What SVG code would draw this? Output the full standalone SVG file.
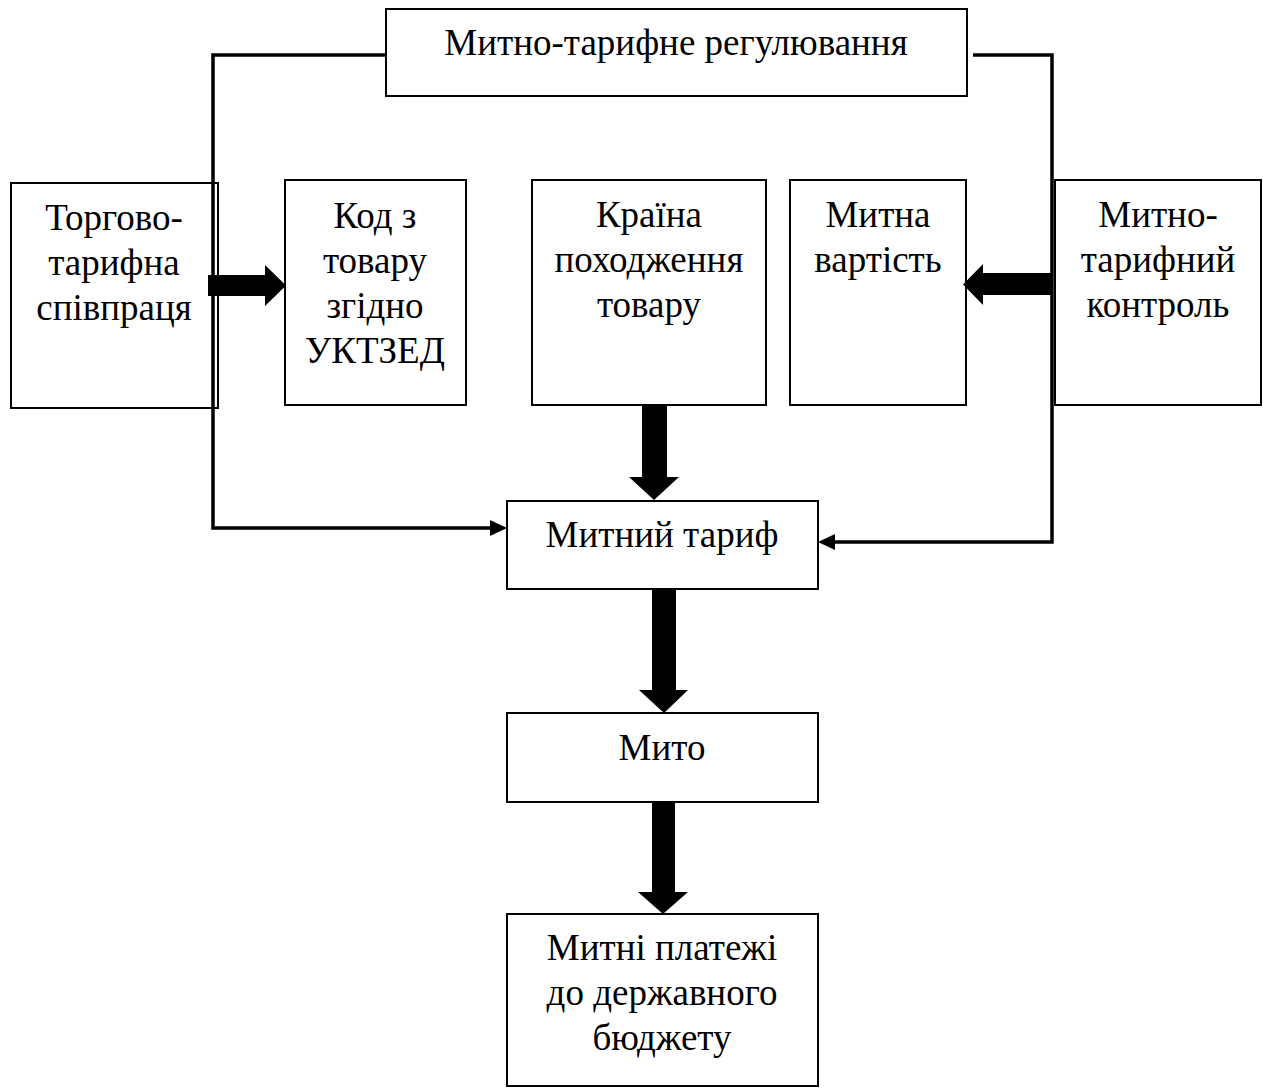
<svg xmlns="http://www.w3.org/2000/svg" width="1263" height="1092" viewBox="0 0 1263 1092">
<style>
.box{fill:#fff;stroke:#000;stroke-width:2}
.t{font-family:"Liberation Serif","Times New Roman",serif;font-size:37px;fill:#000;text-anchor:middle}
.line{fill:none;stroke:#000;stroke-width:3.5}
.fat{fill:#000;stroke:none}
</style>
<rect width="1263" height="1092" fill="#fff"/>
<g id="n-top"><rect class="box" x="386" y="9" width="581" height="87"/><text class="t" x="676" y="55">Митно-тарифне регулювання</text></g>
<g id="n-torg"><rect class="box" x="11" y="183" width="207" height="225"/>
<text class="t" x="114" y="230">Торгово-</text><text class="t" x="114" y="275">тарифна</text><text class="t" x="114" y="320">співпраця</text></g>
<g id="n-kod"><rect class="box" x="285" y="180" width="181" height="225"/>
<text class="t" x="375" y="228">Код з</text><text class="t" x="375" y="273">товару</text><text class="t" x="375" y="318">згідно</text><text class="t" x="375" y="363">УКТЗЕД</text></g>
<g id="n-krain"><rect class="box" x="532" y="180" width="234" height="225"/>
<text class="t" x="649" y="227">Країна</text><text class="t" x="649" y="272">походження</text><text class="t" x="649" y="317">товару</text></g>
<g id="n-vart"><rect class="box" x="790" y="180" width="176" height="225"/>
<text class="t" x="878" y="227">Митна</text><text class="t" x="878" y="272">вартість</text></g>
<g id="n-kontr"><rect class="box" x="1055" y="180" width="206" height="225"/>
<text class="t" x="1158" y="227">Митно-</text><text class="t" x="1158" y="272">тарифний</text><text class="t" x="1158" y="317">контроль</text></g>
<g id="n-tarif"><rect class="box" x="507" y="501" width="311" height="88"/><text class="t" x="662" y="547">Митний тариф</text></g>
<g id="n-myto"><rect class="box" x="507" y="713" width="311" height="89"/><text class="t" x="662" y="760">Мито</text></g>
<g id="n-plat"><rect class="box" x="507" y="914" width="311" height="172"/>
<text class="t" x="662" y="960">Митні платежі</text><text class="t" x="662" y="1005">до державного</text><text class="t" x="662" y="1050">бюджету</text></g>
<g id="connectors">
<path class="line" d="M386,55 H213 V528 H490"/>
<path class="line" d="M973,55 H1052 V542 H835"/>
<path class="fat" d="M490,520 L507,528 L490,536 Z"/>
<path class="fat" d="M835,534 L818,542 L835,550 Z"/>
<path class="fat" d="M208,275 H265 V265 L286,285.5 L265,306 V296 H208 Z"/>
<path class="fat" d="M1052,273 H983 V264 L963,284.5 L983,305 V295 H1052 Z"/>
<path class="fat" d="M642,405 H667 V477 H679 L654,500 L629,477 H642 Z"/>
<path class="fat" d="M652,589 H676 V690 H688 L664,713 L639,690 H652 Z"/>
<path class="fat" d="M652,802 H675 V892 H688 L663,914 L638,892 H652 Z"/>
</g>
</svg>
